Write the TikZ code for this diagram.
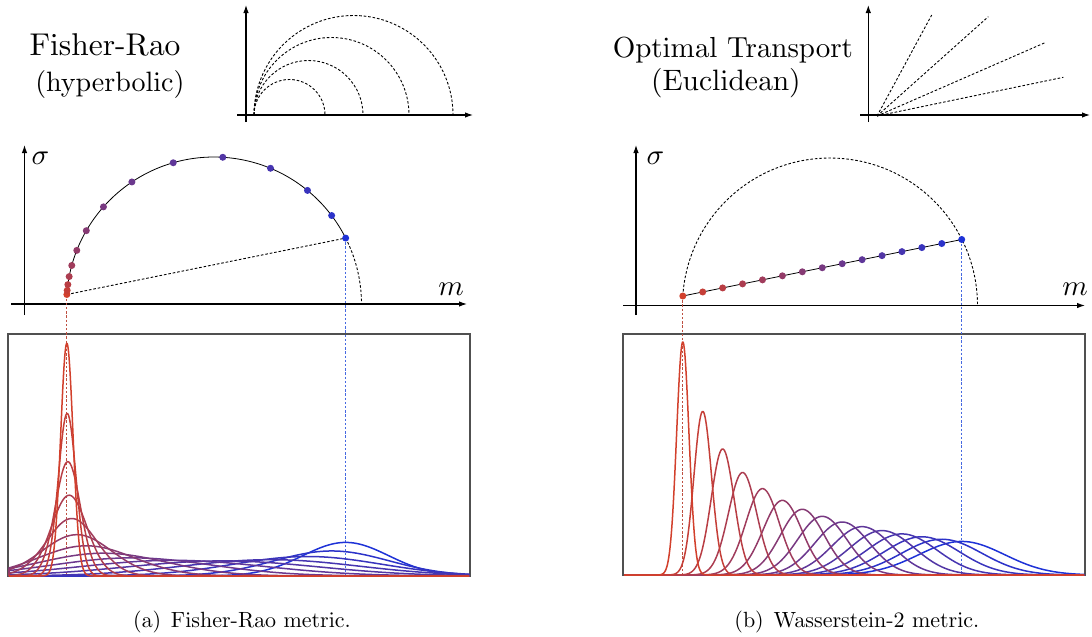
\documentclass[tikz,border=0pt]{standalone}
\usepackage{tikz}
\usetikzlibrary{arrows.meta,calc}
\definecolor{frred}{RGB}{210,64,44}
\definecolor{frblue}{RGB}{30,50,215}
\definecolor{boxgray}{RGB}{80,80,80}
\definecolor{guidered}{RGB}{190,80,65}
\definecolor{guideblue}{RGB}{70,105,225}
% text is set in the 10pt design, scaled up
\font\frtitlefont=cmr10 at 31.5pt
\font\frsubfont=cmr10 at 28pt
\font\wtitlefont=cmr10 at 29pt
\font\wsubfont=cmr10 at 29.5pt
\font\axisfont=cmmi10 at 29pt
\font\capfont=cmr10 at 22pt

\begin{document}
\begin{tikzpicture}[x=1pt, y=-1pt,
  axis line/.style={line width=1.1pt, -{Latex[length=8pt, width=5.5pt]}},
  geo dash/.style={line width=0.9pt, dash pattern=on 2.6pt off 1.9pt},
  guide dash/.style={line width=1.1pt, dash pattern=on 2.4pt off 1.8pt},
  geo dot/.style={circle, inner sep=0pt, minimum size=7pt},
  density/.style={line width=1.5pt, line join=round},
  title text/.style={anchor=base, inner sep=0pt},
  axis label/.style={font=\axisfont},
  caption text/.style={font=\capfont, anchor=base},
]
\useasboundingbox (0,0) rectangle (1092,637);

% ---------------- (a) Fisher-Rao ----------------
\node[title text, font=\frtitlefont] (fr title) at (105,55) {Fisher-Rao};
\node[title text, font=\frsubfont] (fr sub) at (110,91) {(hyperbolic)};

% small sketch: geodesics are half circles
\draw[axis line] (246,122) -- (246,5);
\draw[axis line] (237,115) -- (473,115);
\foreach \r in {35.5,54.5,77.5,99.5}
  \draw[geo dash] (254,115) arc[start angle=180, end angle=0, radius=\r pt];

% (m, sigma) half plane
\draw[axis line] (24.5,315) -- (24.5,145);
\draw[axis line] (11,304) -- (467,304);
\node[axis label] (fr sigma) at (40,158) {\char"1B};
\node[axis label] (fr m) at (451,289) {m};

% points along the geodesic, constant speed
\foreach \k in {0,...,14}{
  \pgfmathsetmacro{\ang}{2*atan(exp(3.38-0.344*\k))}
  \coordinate (fr-\k) at ({214+147.5*cos(\ang)},{304.5-147.5*sin(\ang)});
}
\draw[line width=0.8pt] (fr-0) arc[start angle=176.1, end angle=26.8, radius=147.5pt];
\draw[geo dash] (fr-14) arc[start angle=26.8, end angle=0, radius=147.5pt];
\draw[geo dash] (fr-0) -- (fr-14);

% densities
\coordinate (fr base) at (8,576);
\draw[line width=1.4pt, boxgray] (8,334) rectangle (470,576);
\draw[guide dash, guidered] (fr-0) -- (fr-0 |- fr base);
\draw[guide dash, guideblue] (fr-14) -- (fr-14 |- fr base);
\foreach \k in {14,13,...,0}{
  \pgfmathsetmacro{\ang}{2*atan(exp(3.38-0.344*\k))}
  \pgfmathsetmacro{\mm}{214+147.5*cos(\ang)}
  \pgfmathsetmacro{\sd}{0.65*(147.5*sin(\ang)-0.5)}
  \pgfmathsetmacro{\hh}{1440/\sd}
  \pgfmathsetmacro{\da}{max(9,\mm-6*\sd)}
  \pgfmathsetmacro{\db}{min(469,\mm+6*\sd)}
  \pgfmathtruncatemacro{\pc}{100*\k/14}
  \draw[density, frblue!\pc!frred] (9,576) -- plot[domain=\da:\db, samples=120]
    (\x,{576-\hh*exp(-0.5*((\x-\mm)/\sd)*((\x-\mm)/\sd))}) -- (469,576);
}
\foreach \k in {0,...,14}{
  \pgfmathtruncatemacro{\pc}{100*\k/14}
  \node[geo dot, fill=frblue!\pc!frred] (fr dot \k) at (fr-\k) {};
}

\node[caption text] (fr caption) at (242,627) {(a)\hspace{0.45em}Fisher-Rao metric.};

% ---------------- (b) Wasserstein ----------------
\node[title text, font=\wtitlefont] (w title) at (733,57) {Optimal Transport};
\node[title text, font=\wsubfont] (w sub) at (726,90) {(Euclidean)};

% small sketch: geodesics are straight lines
\draw[axis line] (868.3,122) -- (868.3,5);
\draw[axis line] (860,115) -- (1090,115);
\coordinate (w o) at (877,116);
\foreach \ex/\ey in {931.7/15, 988.3/16.7, 1045/42.7, 1063.3/77.3}
  \draw[geo dash] (w o) -- (\ex,\ey);

% (m, sigma) half plane
\draw[axis line] (636,315) -- (636,145);
\draw[axis line] (623,305.5) -- (1085,305.5);
\node[axis label] (w sigma) at (655,158) {\char"1B};
\node[axis label] (w m) at (1075,289) {m};
\coordinate (w red) at (682.8,296);
\coordinate (w blue) at (961.7,239.5);
\draw[geo dash] (w red) arc[start angle=176.3, end angle=0, radius=147.5pt];
\foreach \k in {0,...,14}
  \coordinate (w-\k) at ($(w red)!{\k/14}!(w blue)$);
\draw[line width=0.8pt] (w red) -- (w blue);

% densities
\coordinate (w base) at (623,575);
\draw[line width=1.4pt, boxgray] (623,334) rectangle (1085,575);
\draw[guide dash, guidered] (w red) -- (w red |- w base);
\draw[guide dash, guideblue] (w blue) -- (w blue |- w base);
\foreach \k in {14,13,...,0}{
  \pgfmathsetmacro{\mm}{682.8+278.9*\k/14}
  \pgfmathsetmacro{\sd}{0.65*(9.5+56.5*\k/14)}
  \pgfmathsetmacro{\hh}{1440/\sd}
  \pgfmathsetmacro{\da}{max(624,\mm-6*\sd)}
  \pgfmathsetmacro{\db}{min(1084,\mm+6*\sd)}
  \pgfmathtruncatemacro{\pc}{100*\k/14}
  \draw[density, frblue!\pc!frred] (624,575) -- plot[domain=\da:\db, samples=120]
    (\x,{575-\hh*exp(-0.5*((\x-\mm)/\sd)*((\x-\mm)/\sd))}) -- (1084,575);
}
\foreach \k in {0,...,14}{
  \pgfmathtruncatemacro{\pc}{100*\k/14}
  \node[geo dot, fill=frblue!\pc!frred] (w dot \k) at (w-\k) {};
}

\node[caption text] (w caption) at (857,627) {(b)\hspace{0.45em}Wasserstein-2 metric.};

\end{tikzpicture}
\end{document}
